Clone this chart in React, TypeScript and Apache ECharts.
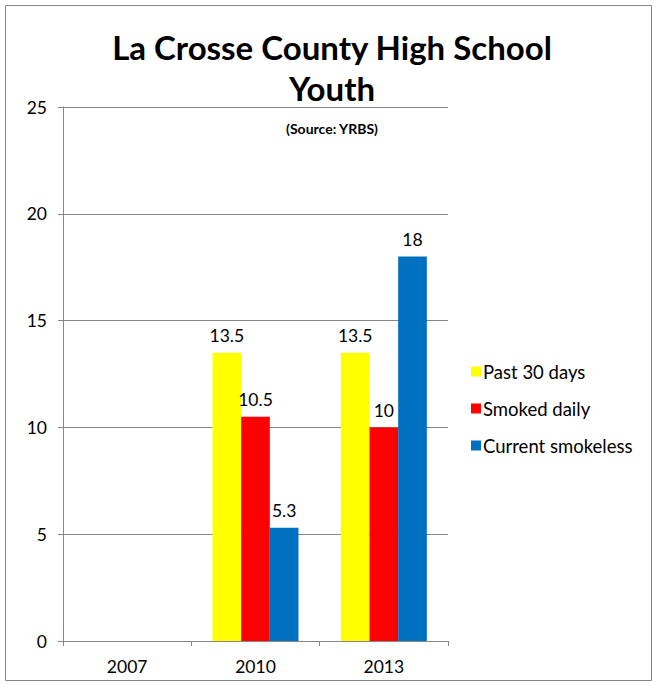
import React, { useEffect, useRef } from "react";
import * as echarts from "echarts";

const categories = ["2007", "2010", "2013"];
const seriesNames = ["Past 30 days", "Smoked daily", "Current smokeless"];
const past30 = [null, 13.5, 13.5];
const smokedDaily = [null, 10.5, 10];
const smokeless = [null, 5.3, 18];
const colors = ["#FFFF00", "#FF0000", "#0070C0"];
const FONT = "Lato, 'Open Sans', sans-serif";

export default function App() {
  const ref = useRef<HTMLDivElement>(null);
  useEffect(() => {
    document.body.style.margin = "0";
    const chart = echarts.init(ref.current!, null, { renderer: "svg" });
    const values = [past30, smokedDaily, smokeless];
    chart.setOption({
      animation: false,
      backgroundColor: "#ffffff",
      textStyle: { fontFamily: FONT },
      graphic: [
        {
          type: "rect",
          shape: { x: 5.5, y: 5.5, width: 646, height: 675 },
          style: { fill: "none", stroke: "#868686", lineWidth: 1 },
          silent: true,
        },
        {
          type: "text",
          x: 332,
          y: 47,
          style: { text: "La Crosse County High School", align: "center", verticalAlign: "middle", fontFamily: FONT, fontSize: 33, fontWeight: "bold", fill: "#000" },
        },
        {
          type: "text",
          x: 332,
          y: 88,
          style: { text: "Youth", align: "center", verticalAlign: "middle", fontFamily: FONT, fontSize: 33, fontWeight: "bold", fill: "#000" },
        },
        {
          type: "text",
          x: 332,
          y: 128,
          style: { text: "(Source: YRBS)", align: "center", verticalAlign: "middle", fontFamily: FONT, fontSize: 14, fontWeight: "bold", fill: "#000" },
        },
      ],
      legend: {
        orient: "vertical",
        left: 466,
        top: 356,
        itemWidth: 10,
        itemHeight: 10,
        itemGap: 16,
        icon: "rect",
        textStyle: { fontFamily: FONT, fontSize: 18.5, color: "#000", padding: [0, 0, 0, -3], lineHeight: 21 },
        data: seriesNames,
      },
      grid: { left: 63, top: 107, width: 385, height: 534, containLabel: false },
      xAxis: {
        type: "category",
        data: categories,
        axisLine: { lineStyle: { color: "#868686" } },
        axisTick: { show: true, length: 5, lineStyle: { color: "#868686" } },
        axisLabel: { fontFamily: FONT, fontSize: 17.5, color: "#000", margin: 16 },
      },
      yAxis: {
        type: "value",
        min: 0,
        max: 25,
        interval: 5,
        axisLine: { show: true, lineStyle: { color: "#868686" } },
        axisTick: { show: true, length: 5, lineStyle: { color: "#868686" } },
        axisLabel: { fontFamily: FONT, fontSize: 17.5, color: "#000", margin: 16 },
        splitLine: { lineStyle: { color: "#868686" } },
      },
      series: seriesNames.map((name, i) => ({
        name,
        type: "bar",
        data: values[i],
        barGap: "0%",
        barCategoryGap: "33%",
        itemStyle: { color: colors[i] },
        label: {
          show: true,
          position: "top",
          distance: 8,
          fontFamily: FONT,
          fontSize: 17.5,
          color: "#000",
        },
      })),
    });
    return () => chart.dispose();
  }, []);
  return <div ref={ref} style={{ width: 656, height: 685 }} />;
}
